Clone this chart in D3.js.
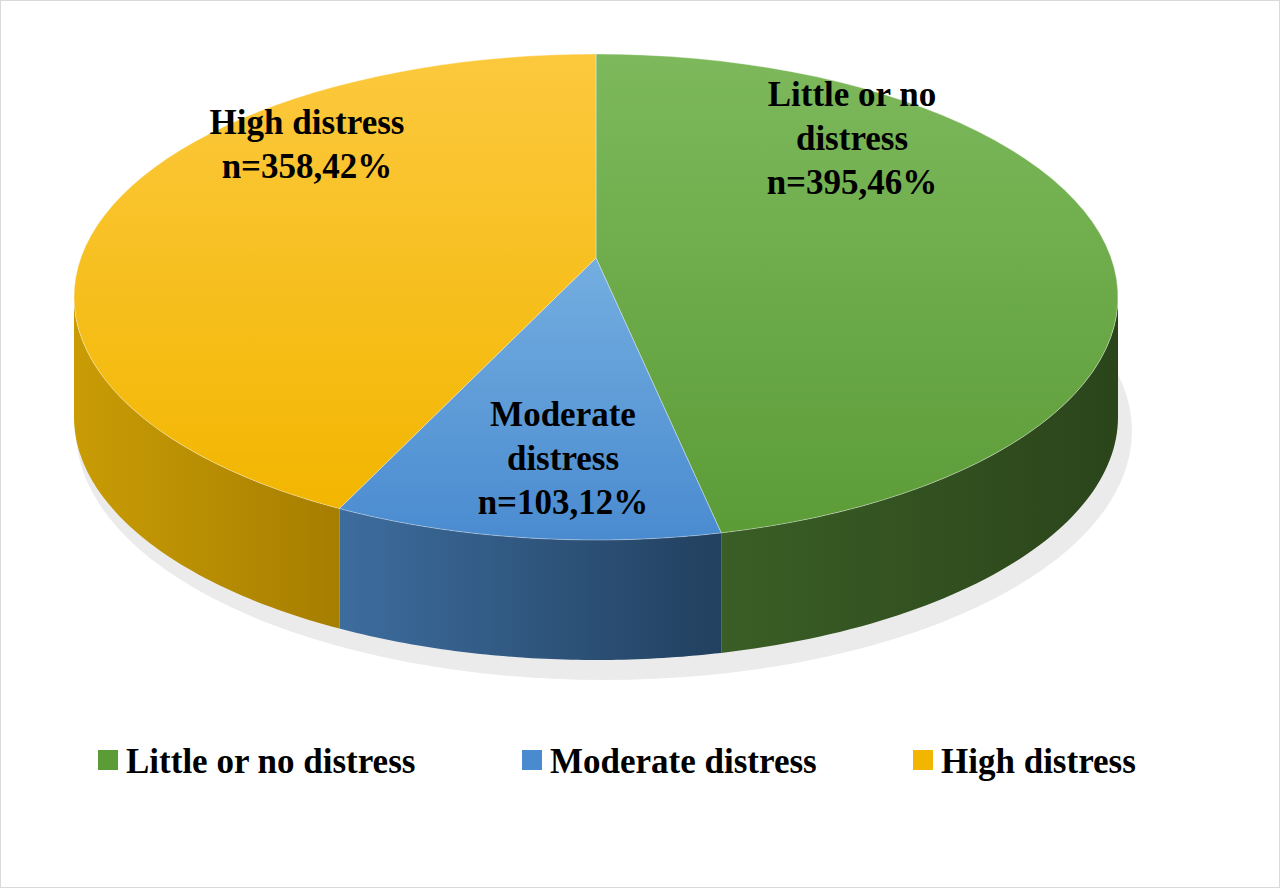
<!DOCTYPE html>
<html><head><meta charset="utf-8">
<script src="https://cdn.jsdelivr.net/npm/d3@7"></script>
<style>body{margin:0;background:#fff}</style>
</head><body>
<script>
const data = [
  { name: "Little or no distress", n: 395, pct: 46, top: ["#7db95c", "#5c9c37"], side: ["#3a5e25", "#2b451b"] },
  { name: "Moderate distress", n: 103, pct: 12, top: ["#74aee0", "#4a8bd0"], side: ["#3d6d9e", "#22405f"] },
  { name: "High distress", n: 358, pct: 42, top: ["#fcc93e", "#f2b600"], side: ["#c99c05", "#a67e00"] }
];

const W = 1280, H = 888;
const cx = 596, cy = 297, rx = 522, ry = 243, depth = 120;
const apex = [596, 258];

const svg = d3.select("body").append("svg").attr("width", W).attr("height", H);
svg.append("rect").attr("x", 0.5).attr("y", 0.5).attr("width", W - 1).attr("height", H - 1)
  .attr("fill", "#fff").attr("stroke", "#d9d9d9");

const defs = svg.append("defs");
data.forEach((d, i) => {
  const gt = defs.append("linearGradient").attr("id", "top" + i).attr("x1", 0).attr("y1", 0).attr("x2", 0).attr("y2", 1);
  gt.append("stop").attr("offset", "0%").attr("stop-color", d.top[0]);
  gt.append("stop").attr("offset", "100%").attr("stop-color", d.top[1]);
  const gs = defs.append("linearGradient").attr("id", "side" + i).attr("x1", 0).attr("y1", 0).attr("x2", 1).attr("y2", 0);
  gs.append("stop").attr("offset", "0%").attr("stop-color", d.side[0]);
  gs.append("stop").attr("offset", "100%").attr("stop-color", d.side[1]);
});

const pie = d3.pie().sort(null).value(d => d.n);
const arcs = pie(data);

const pt = (a, dy = 0) => [cx + rx * Math.sin(a), cy - ry * Math.cos(a) + dy];
const samples = (a0, a1) => d3.range(0, 61).map(k => a0 + (a1 - a0) * k / 60);

// shadow
svg.append("ellipse").attr("cx", cx + 8).attr("cy", cy + depth + 14).attr("rx", rx + 6).attr("ry", ry + 6)
  .attr("fill", "#000").attr("opacity", 0.08).attr("filter", null);

// sides (front half only)
arcs.forEach((a, i) => {
  const s0 = Math.max(a.startAngle, Math.PI / 2), s1 = Math.min(a.endAngle, 3 * Math.PI / 2);
  if (s1 <= s0) return;
  const topPts = samples(s0, s1).map(t => pt(t));
  const botPts = samples(s0, s1).reverse().map(t => pt(t, depth));
  svg.append("path").attr("d", d3.line()(topPts.concat(botPts)) + "Z").attr("fill", `url(#side${i})`);
});

// top faces
arcs.forEach((a, i) => {
  const pts = [apex].concat(samples(a.startAngle, a.endAngle).map(t => pt(t)));
  svg.append("path").attr("d", d3.line()(pts) + "Z").attr("fill", `url(#top${i})`)
    .attr("stroke", "rgba(255,255,255,0.35)").attr("stroke-width", 1);
});

// labels
const font = "'Liberation Serif', 'Times New Roman', serif";
const labels = [
  { i: 0, x: 852, y: 106, lines: ["Little or no", "distress", "n=395,46%"] },
  { i: 1, x: 563, y: 426, lines: ["Moderate", "distress", "n=103,12%"] },
  { i: 2, x: 307, y: 134, lines: ["High distress", "n=358,42%"] }
];
labels.forEach(l => {
  const d = data[l.i];
  const t = svg.append("text").attr("x", l.x).attr("y", l.y).attr("text-anchor", "middle")
    .style("font-family", font).style("font-weight", "bold").style("font-size", "35px").attr("fill", "#000");
  l.lines.forEach((s, k) => t.append("tspan").attr("x", l.x).attr("dy", k ? 44 : 0).text(s));
});

// legend
const leg = [{ x: 98 }, { x: 522 }, { x: 913 }];
data.forEach((d, i) => {
  svg.append("rect").attr("x", leg[i].x).attr("y", 750).attr("width", 20).attr("height", 20).attr("fill", d.top[1]);
  svg.append("text").attr("x", leg[i].x + 28).attr("y", 773).style("font-family", font)
    .style("font-weight", "bold").style("font-size", "35px").text(d.name);
});
</script>
</body></html>
